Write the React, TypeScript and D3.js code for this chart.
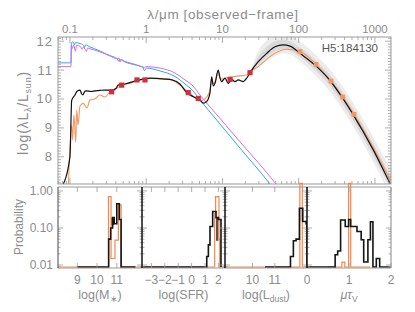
import React from "react";
import * as d3 from "d3";

const FONT = "'Liberation Sans', Arial, Helvetica, sans-serif";
const TXT = "#8c8c8c";

// ---------- main SED panel (observed-frame wavelength in micron, log lambda L_lambda / L_sun) ----------
const bestLam = [0.078, 0.1, 0.1054, 0.1164, 0.124, 0.1355, 0.142, 0.148, 0.155, 0.162, 0.19, 0.213, 0.25, 0.288, 0.356, 0.4, 0.427, 0.527, 0.713, 1.12, 1.76, 2.18, 2.77, 3.4, 4.14, 5.07, 5.61, 6.21, 6.85, 7.23, 7.59, 7.98, 8.81, 9.29, 9.77, 10.8, 11.9, 13.2, 14.6, 16.1, 18.7, 20.8, 23.0, 29.5, 38.0, 48.9, 62.8, 76.9, 104, 164, 257, 366, 520, 951, 1574, 1700];
const bestLum = [6.95, 8.0, 9.95, 10.14, 10.27, 10.31, 10.18, 10.14, 10.25, 10.28, 10.26, 10.28, 10.3, 10.31, 10.31, 10.36, 10.48, 10.52, 10.62, 10.72, 10.69, 10.66, 10.52, 10.22, 10.08, 9.97, 9.86, 9.91, 10.2, 10.77, 10.45, 10.54, 11.0, 10.73, 10.6, 10.72, 10.54, 10.68, 10.6, 10.66, 10.6, 10.72, 10.91, 11.29, 11.58, 11.81, 11.87, 11.83, 11.58, 11.17, 10.64, 10.08, 9.45, 8.24, 7.08, 6.9];

const altLam = [0.095, 0.1054, 0.1079, 0.113, 0.119, 0.1227, 0.1276, 0.1355, 0.1496, 0.1675, 0.1833, 0.21, 0.248, 0.288, 0.335, 0.39, 0.427, 0.453, 0.527, 0.614, 0.757, 0.964, 1.12, 1.76, 2.18, 2.77, 3.4, 4.14, 4.59, 5.07, 5.61, 6.21, 6.85, 7.23, 7.59, 7.98, 8.81, 9.29, 9.86, 11.4, 13.9, 17.0, 20.8, 23.0, 29.5, 38.0, 48.9, 69.6, 104, 169, 265, 378, 531, 942, 1622];
const altLum = [6.9, 9.1, 8.58, 9.45, 8.5, 9.62, 9.1, 9.76, 9.85, 9.69, 9.97, 10.0, 10.14, 10.07, 10.25, 10.31, 10.41, 10.42, 10.52, 10.54, 10.66, 10.68, 10.71, 10.69, 10.66, 10.48, 10.28, 10.1, 9.99, 9.93, 9.97, 10.07, 10.31, 10.66, 10.52, 10.59, 10.94, 10.73, 10.69, 10.73, 10.77, 10.8, 10.83, 10.95, 11.12, 11.38, 11.58, 11.72, 11.64, 11.2, 10.62, 10.07, 9.47, 8.34, 7.16];

const unattLam = [0.065, 0.103, 0.1045, 0.11, 0.115, 0.118, 0.135, 0.15, 0.155, 0.16, 0.183, 0.21, 0.248, 0.29, 0.335, 0.38, 0.414, 0.44, 0.46, 0.527, 0.713, 0.9, 0.95, 1.0, 1.52, 2.38, 3.23, 4.11, 5.07, 8.48, 17.0, 42, 50];
const unattLum = [11.25, 11.25, 11.95, 11.97, 11.88, 11.95, 11.92, 11.86, 11.78, 11.87, 11.8, 11.74, 11.66, 11.57, 11.5, 11.45, 11.4, 11.3, 11.36, 11.28, 11.18, 11.1, 10.98, 11.07, 10.97, 10.78, 10.52, 10.28, 9.97, 9.26, 8.3, 7.06, 6.8];

const unatt2Lam = [0.065, 0.103, 0.1045, 0.108, 0.112, 0.118, 0.122, 0.135, 0.145, 0.15, 0.165, 0.17, 0.183, 0.248, 0.335, 0.414, 0.44, 0.455, 0.47, 0.527, 0.713, 0.95, 1.0, 1.52, 2.38, 3.23, 4.11, 5.07, 8.48, 17.0, 50.4, 60];
const unatt2Lum = [11.12, 11.12, 11.85, 11.75, 11.88, 11.65, 11.85, 11.83, 11.72, 11.8, 11.65, 11.76, 11.74, 11.63, 11.49, 11.39, 11.42, 11.28, 11.36, 11.3, 11.2, 11.1, 11.12, 11.07, 10.9, 10.66, 10.45, 10.14, 9.45, 8.52, 7.06, 6.8];

const bandLam = [22, 25, 30, 38, 49, 63, 77, 104, 164, 257, 366, 520, 951, 1700];
const bandOuterHi = [10.95, 11.2, 11.7, 12.02, 12.2, 12.25, 12.2, 11.98, 11.55, 11.02, 10.48, 9.86, 8.68, 7.45];
const bandOuterLo = [10.85, 10.92, 11.1, 11.32, 11.5, 11.58, 11.55, 11.3, 10.82, 10.25, 9.68, 9.05, 7.82, 6.5];
const bandInnerHi = [10.93, 11.12, 11.5, 11.8, 12.0, 12.05, 12.0, 11.78, 11.35, 10.83, 10.28, 9.66, 8.46, 7.2];
const bandInnerLo = [10.88, 10.98, 11.2, 11.45, 11.65, 11.72, 11.68, 11.45, 11.0, 10.45, 9.88, 9.25, 8.02, 6.8];

const obsLam = [0.352, 0.477, 0.757, 0.964, 3.56, 4.82, 12.6, 23.0];
const obsLum = [10.25, 10.48, 10.66, 10.66, 10.22, 10.02, 10.68, 10.91];
const firLam = [104, 169, 265, 378, 531];
const firLum = [11.64, 11.2, 10.62, 10.07, 9.47];

const topTicks = [0.1, 1, 10, 100, 1000];
const topLabels = ["0.1", "1", "10", "100", "1000"];
const yTicks = [8, 9, 10, 11, 12];
const probTicks = [1, 0.1, 0.01];
const probLabels = ["1.00", "0.10", "0.01"];

// ---------- PDF histograms ----------
const massEdgesB = [9.0, 10.59, 10.69, 10.79, 10.87, 11.0, 11.13, 11.22, 11.95];
const massProbB = [0, 0.05, 0.1, 0.19, 0.13, 0.45, 0.17, 0];
const massEdgesO = [8.0, 10.58, 10.71, 10.91, 11.08, 11.22, 12.3];
const massProbO = [0, 0.7, 0.015, 0.047, 0.42, 0];
const massShade = [10.71, 10.87, 0.12, 0.19];

const sfrEdgesB = [-3.7, 1.13, 1.25, 1.37, 1.57, 1.82, 2.0, 2.19];
const sfrProbB = [0, 0.017, 0.035, 0.11, 0.28, 0.19, 0.17];
const sfrEdgesO = [-3.7, 1.72, 1.79, 2.04, 2.1, 2.49];
const sfrProbO = [0, 0.25, 0.7, 0.05, 0];
const sfrShade = [1.82, 2.0, 0.045, 0.19];

const ldustEdgesB = [10.56, 11.7, 11.83, 11.95, 12.1, 12.25, 12.4, 12.44];
const ldustProbB = [0, 0.017, 0.045, 0.05, 0.34, 0.15, 0.13];
const ldustEdgesO = [8.77, 12.12, 12.23, 12.44];
const ldustProbO = [0, 1.6, 0];
const ldustShade = [12.1, 12.22, 0.15, 0.34];

const mutauEdgesB = [0, 0.67, 0.73, 0.8, 0.91, 0.99, 1.04, 1.19, 1.29, 1.35, 1.45, 1.51, 1.57, 1.65, 1.73, 2.0];
const mutauProbB = [0, 0.019, 0.024, 0.165, 0.11, 0.17, 0.11, 0.08, 0.048, 0.012, 0.048, 0.148, 0, 0.015, 0];
const mutauEdgesO = [0.5, 0.83, 0.9, 0.99, 1.04, 1.5];
const mutauProbO = [0, 0.012, 0, 1.6, 0];

export default function App() {
  const xM = d3.scaleLog().domain([0.0697, 1625]).range([58, 391]);
  const yM = d3.scaleLinear().domain([7.059, 12.145]).range([184, 37]);
  const mkLine = (lam: number[], lum: number[]) =>
    d3.line<number>().x((_, i) => xM(lam[i])).y((d) => yM(d)).curve(d3.curveMonotoneX)(lum) || "";
  const mkArea = (lam: number[], lo: number[], hi: number[]) =>
    d3.area<number>().x((_, i) => xM(lam[i])).y0((_, i) => yM(lo[i])).y1((d) => yM(d)).curve(d3.curveMonotoneX)(hi) || "";

  const minorY = d3.range(71, 122).map((k) => k / 10);
  const logT: { v: number; major: boolean }[] = [];
  for (let e = -2; e <= 3; e++)
    for (let m = 1; m <= 9; m++) {
      const v = m * Math.pow(10, e);
      if (v >= 0.0697 && v <= 1625) logT.push({ v, major: m === 1 });
    }

  const yP = d3.scaleLog().domain([0.0083, 1.28]).range([268, 187]);
  const py = (p: number) => (p <= 0 ? 267 : yP(p));
  const probMinor: { v: number; major: boolean }[] = [];
  for (let e = -3; e <= 0; e++)
    for (let m = 1; m <= 9; m++) {
      const v = m * Math.pow(10, e);
      if (v >= 0.0083 && v <= 1.28) probMinor.push({ v, major: m === 1 });
    }

  const panels = [
    { x0: 58, x1: 142, dom: [8.02, 12.28], ticks: [9, 10, 11], bE: massEdgesB, bP: massProbB, oE: massEdgesO, oP: massProbO, sh: massShade, shFill: "#555",
      title: <>log(M<tspan dy={3} fontSize={8.5}>{"\u2217"}</tspan><tspan dy={-3}>)</tspan></> },
    { x0: 142, x1: 225, dom: [-3.7, 2.49], ticks: [-3, -2, -1, 0, 1, 2], bE: sfrEdgesB, bP: sfrProbB, oE: sfrEdgesO, oP: sfrProbO, sh: sfrShade, shFill: "#555",
      title: <>log(SFR)</> },
    { x0: 225, x1: 307, dom: [8.77, 12.44], ticks: [10, 11], bE: ldustEdgesB, bP: ldustProbB, oE: ldustEdgesO, oP: ldustProbO, sh: ldustShade, shFill: "#c8c8c8",
      title: <>log(L<tspan dy={3} fontSize={8.5}>dust</tspan><tspan dy={-3}>)</tspan></> },
    { x0: 307, x1: 391, dom: [0, 2], ticks: [0, 1, 2], bE: mutauEdgesB, bP: mutauProbB, oE: mutauEdgesO, oP: mutauProbO, sh: null as number[] | null, shFill: "#ccc",
      title: <><tspan fontStyle="italic">{"\u03bc\u03c4"}</tspan><tspan dy={3} fontSize={8.5}>V</tspan></> },
  ];

  const stepPath = (edges: number[], probs: number[], x: (v: number) => number) => {
    let d = `M${x(edges[0])},${py(0)}`;
    for (let i = 0; i < probs.length; i++) {
      d += `L${x(edges[i])},${py(probs[i])}L${x(edges[i + 1])},${py(probs[i])}`;
    }
    d += `L${x(edges[edges.length - 1])},${py(0)}`;
    return d;
  };

  return (
    <svg width={415} height={312} style={{ position: "absolute", left: 0, top: 0, background: "#fff" }} fontFamily={FONT}>
      <defs>
        <clipPath id="mainClip">
          <rect x={58} y={37} width={333} height={147} />
        </clipPath>
        {panels.map((p, i) => (
          <clipPath id={`pc${i}`} key={i}>
            <rect x={p.x0} y={180} width={p.x1 - p.x0} height={88} />
          </clipPath>
        ))}
      </defs>

      {/* ---------- main panel ---------- */}
      <g clipPath="url(#mainClip)">
        <path d={mkArea(bandLam, bandOuterLo, bandOuterHi)} fill="#ececec" />
        <path d={mkArea(bandLam, bandInnerLo, bandInnerHi)} fill="#d9d9d9" />
        <path d={mkLine(unattLam, unattLum)} fill="none" stroke="#2aa6f5" strokeWidth={1} />
        <path d={mkLine(unatt2Lam, unatt2Lum)} fill="none" stroke="#cf6fe0" strokeWidth={1} />
        <path d={mkLine(altLam, altLum)} fill="none" stroke="#f7955f" strokeWidth={1.1} />
        <path d={mkLine(bestLam, bestLum)} fill="none" stroke="#111" strokeWidth={1.2} />
        {obsLam.map((l, i) => (
          <rect key={i} x={xM(l) - 2.6} y={yM(obsLum[i]) - 2.6} width={5.2} height={5.2} fill="#cf3040" />
        ))}
        {firLam.map((l, i) => (
          <rect key={i} x={xM(l) - 2.4} y={yM(firLum[i]) - 2.4} width={4.8} height={4.8} fill="#f7955f" />
        ))}
      </g>
      <rect x={58} y={37} width={333} height={147} fill="none" stroke="#9a9a9a" strokeWidth={1} />
      {minorY.map((v, i) => {
        const major = Math.abs(v - Math.round(v)) < 1e-6;
        const len = major ? 6 : 3;
        return (
          <g key={i} stroke="#9a9a9a" strokeWidth={0.8}>
            <line x1={58} x2={58 + len} y1={yM(v)} y2={yM(v)} />
            <line x1={391} x2={391 - len} y1={yM(v)} y2={yM(v)} />
          </g>
        );
      })}
      {logT.map((t, i) => {
        const len = t.major ? 6 : 3;
        return (
          <g key={i} stroke="#9a9a9a" strokeWidth={0.8}>
            <line x1={xM(t.v)} x2={xM(t.v)} y1={37} y2={37 + len} />
            <line x1={xM(t.v)} x2={xM(t.v)} y1={184} y2={184 - len} />
          </g>
        );
      })}
      {topTicks.map((t, i) => (
        <text key={i} x={xM(t)} y={33} textAnchor="middle" fontSize={11.5} fill={TXT}>{topLabels[i]}</text>
      ))}
      <text x={223} y={19} textAnchor="middle" fontSize={13.5} fill={TXT} letterSpacing={0.6}>λ/μm [observed−frame]</text>
      {yTicks.map((t, i) => (
        <text key={i} x={53} y={yM(t) + 4.5} textAnchor="end" fontSize={13} fill={TXT} letterSpacing={1}>{t}</text>
      ))}
      <text transform="translate(28,113) rotate(-90)" textAnchor="middle" fontSize={14} fill={TXT} letterSpacing={0.8}>
        log(λL<tspan dy={3} fontSize={9}>λ</tspan><tspan dy={-3}>/L</tspan><tspan dy={3} fontSize={9}>sun</tspan><tspan dy={-3}>)</tspan>
      </text>
      <text x={378} y={52} textAnchor="end" fontSize={11.5} fill="#555">H5:184130</text>

      {/* ---------- PDF panels ---------- */}
      {panels.map((p, i) => {
        const x = d3.scaleLinear().domain(p.dom).range([p.x0, p.x1]);
        return (
          <g key={i}>
            <g clipPath={`url(#pc${i})`}>
              {p.sh && (
                <rect x={x(p.sh[0])} y={yP(p.sh[3])} width={x(p.sh[1]) - x(p.sh[0])} height={yP(p.sh[2]) - yP(p.sh[3])} fill={p.shFill} />
              )}
              <path d={stepPath(p.oE, p.oP, x)} fill="none" stroke="#f4874b" strokeWidth={1.2} />
              <path d={stepPath(p.bE, p.bP, x)} fill="none" stroke="#151515" strokeWidth={1.6} />
            </g>
            <line x1={p.x0} x2={p.x1} y1={187} y2={187} stroke="#9a9a9a" strokeWidth={1.2} />
            <line x1={p.x0} x2={p.x1} y1={268} y2={268} stroke="#9a9a9a" strokeWidth={1.2} />
            {probMinor.map((t, k) => {
              const len = t.major ? 5 : 2.5;
              return (
                <g key={k} stroke="#9a9a9a" strokeWidth={0.8}>
                  <line x1={p.x0} x2={p.x0 + len} y1={yP(t.v)} y2={yP(t.v)} />
                  <line x1={p.x1} x2={p.x1 - len} y1={yP(t.v)} y2={yP(t.v)} />
                </g>
              );
            })}
            {p.ticks.map((t, k) => (
              <g key={k}>
                <line x1={x(t)} x2={x(t)} y1={268} y2={263} stroke="#9a9a9a" strokeWidth={0.8} />
                <line x1={x(t)} x2={x(t)} y1={187} y2={192} stroke="#9a9a9a" strokeWidth={0.8} />
                <text x={x(t)} y={284} textAnchor="middle" fontSize={12} fill={TXT}>{t < 0 ? `\u2212${-t}` : `${t}`}</text>
              </g>
            ))}
            <text x={(p.x0 + p.x1) / 2} y={299} textAnchor="middle" fontSize={12.5} fill={TXT}>{p.title}</text>
          </g>
        );
      })}
      <line x1={58} x2={58} y1={187} y2={268} stroke="#666" strokeWidth={1.2} />
      <line x1={391} x2={391} y1={187} y2={268} stroke="#9a9a9a" strokeWidth={1.2} />
      {[142, 225, 307].map((xv, i) => (
        <line key={i} x1={xv} x2={xv} y1={187} y2={268} stroke="#111" strokeWidth={1.5} />
      ))}
      {probTicks.map((t, i) => (
        <text key={i} x={53} y={yP(t) + 4} textAnchor="end" fontSize={12} fill={TXT}>{probLabels[i]}</text>
      ))}
      <text transform="translate(23,227) rotate(-90)" textAnchor="middle" fontSize={12} fill={TXT}>Probability</text>
    </svg>
  );
}
